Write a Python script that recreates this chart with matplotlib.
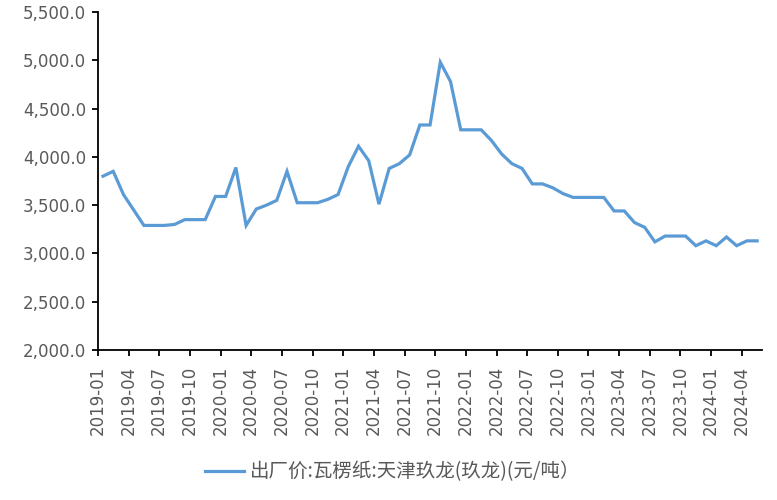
import matplotlib
matplotlib.use("Agg")
import matplotlib.pyplot as plt
from matplotlib.ticker import FuncFormatter
import pandas as pd

# monthly series, 2019-01 .. 2024-05
months = [str(p) for p in pd.period_range("2019-01", "2024-05", freq="M")]
prices = [
    3800, 3850, 3610, 3450, 3290, 3290, 3290, 3300, 3350, 3350, 3350, 3590,
    3590, 3890, 3290, 3460, 3500, 3550, 3850, 3525, 3525, 3525, 3560, 3610,
    3900, 4110, 3960, 3510, 3880, 3930, 4020, 4330, 4330, 4980, 4780, 4280,
    4280, 4280, 4170, 4030, 3930, 3880, 3720, 3720, 3680, 3620, 3580, 3580,
    3580, 3580, 3440, 3440, 3320, 3270, 3120, 3180, 3180, 3180, 3080, 3130,
    3080, 3170, 3080, 3130, 3130,
]
series_name = "出厂价:瓦楞纸:天津玖龙(玖龙)(元/吨）"
y_ticks = [2000, 2500, 3000, 3500, 4000, 4500, 5000, 5500]

grey = "#595959"

fig = plt.figure(figsize=(7.77, 5.0), dpi=100)
ax = fig.add_axes([0.126, 0.30, 0.855, 0.676])

x = [i + 0.5 for i in range(len(months))]
ax.plot(x, prices, color="#5B9BD5", lw=2.3, label=series_name,
        solid_joinstyle="miter")

ax.set_xlim(0, len(months))
ax.set_ylim(2000, 5500)
ax.set_yticks(y_ticks)
ax.yaxis.set_major_formatter(FuncFormatter(lambda v, p: f"{v:,.1f}"))

tick_pos = list(range(0, len(months), 3))
ax.set_xticks(tick_pos)
ax.set_xticklabels([months[i] for i in tick_pos], rotation=90)

for side in ["top", "right"]:
    ax.spines[side].set_visible(False)
for side in ["left", "bottom"]:
    ax.spines[side].set_color("black")
    ax.spines[side].set_linewidth(1.3)

ax.tick_params(axis="both", direction="out", length=4.5, width=1.3,
               color="black", labelcolor=grey, labelsize=12)
ax.tick_params(axis="y", pad=4)
ax.tick_params(axis="x", pad=7)

fig.legend(loc="lower center", bbox_to_anchor=(0.505, 0.0), frameon=False,
           prop={"family": ["Noto Sans CJK SC", "DejaVu Sans"], "size": 14},
           labelcolor=grey, handlelength=2.0, handletextpad=0.3)

fig.savefig("out.png", dpi=100)
